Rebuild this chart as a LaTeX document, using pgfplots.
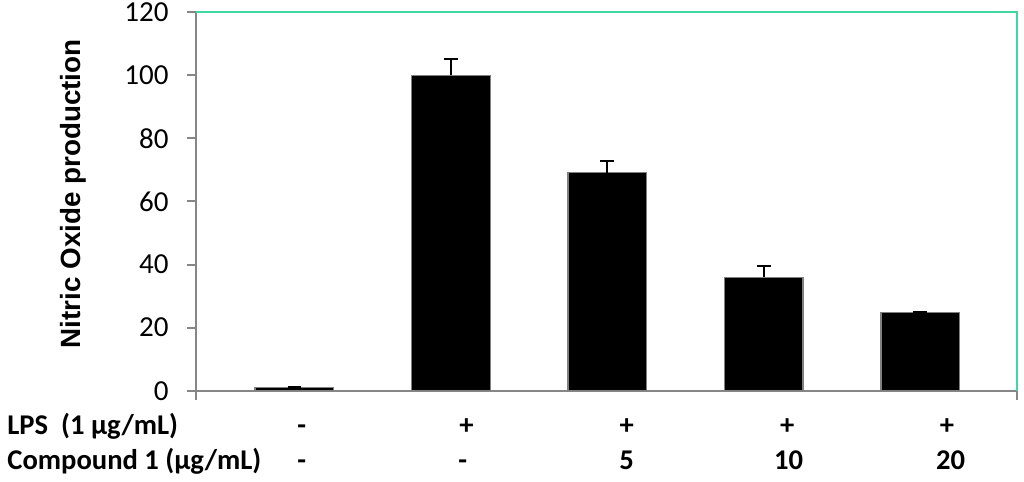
\documentclass[border=0pt]{standalone}
\usepackage{fontspec}
\setmainfont{Carlito}
\newfontfamily\arialfont{Liberation Sans}
\usepackage{pgfplots}
\pgfplotsset{compat=1.18}
\definecolor{axgray}{HTML}{868686}
\definecolor{mint}{HTML}{3FD8A0}

\begin{document}
\begin{tikzpicture}
\path[use as bounding box] (-98.25pt,-45.65pt) rectangle (413.75pt,195.35pt);
\begin{axis}[
  at={(0,0)}, anchor=south west,
  scale only axis, width=410.4pt, height=189.2pt,
  xmin=-0.625, xmax=4.62, ymin=0, ymax=120,
  ytick={0,20,...,120}, xtick=\empty,
  axis lines*=left,
  axis line style={axgray, line width=1pt},
  tick align=outside, major tick length=4.6pt,
  every tick/.style={axgray, line width=1pt},
  /pgf/number format/assume math mode=true,
  yticklabel style={font=\fontsize{14.5}{17}\selectfont, anchor=east, inner sep=0pt, xshift=-9.2pt},
  ylabel={Nitric Oxide production},
  ylabel style={font=\arialfont\bfseries\fontsize{13.9}{16}\selectfont, at={(rel axis cs:-0.1505,0.52)}, anchor=center},
  clip=false,
  bar width=39.3pt,
]
\addplot[ybar, fill=black, draw=gray, line width=0.6pt,
  error bars/.cd, y dir=plus, y explicit,
  error bar style={black, line width=0.9pt},
  error mark options={rotate=90, mark size=3.4pt, black, line width=0.9pt}]
 coordinates {
 (0,1.1) +- (0,0)
 (1,100) +- (0,5.1)
 (2,69.1) +- (0,3.8)
 (3,36) +- (0,3.6)
 (4,24.7) +- (0,0.3)
};
% green top and right border
\draw[mint, line width=1pt] (axis cs:-0.625,120) -- (axis cs:4.62,120) -- (axis cs:4.62,0);
\draw[axgray, line width=1pt] (axis cs:-0.625,0) -- ([yshift=-4.6pt]axis cs:-0.625,0);
\draw[axgray, line width=1pt] (axis cs:4.62,0) -- ([yshift=-4.6pt]axis cs:4.62,0);
% treatment table
\tikzset{lab/.style={font=\bfseries\fontsize{14.3}{16}\selectfont, inner sep=0pt, anchor=base}}
\node[lab, anchor=base west, xshift=-94.75pt, yshift=-22.15pt] at (rel axis cs:0,0) {LPS\ \ (1 μg/mL)};
\node[lab, anchor=base west, xshift=-94.75pt, yshift=-39.65pt] at (rel axis cs:0,0) {Compound 1 (μg/mL)};
\node[lab, yshift=-22.15pt] at (axis cs:0.047,0) {-};
\node[lab, yshift=-22.15pt] at (axis cs:1.100,0) {+};
\node[lab, yshift=-22.15pt] at (axis cs:2.124,0) {+};
\node[lab, yshift=-22.15pt] at (axis cs:3.150,0) {+};
\node[lab, yshift=-22.15pt] at (axis cs:4.170,0) {+};
\node[lab, yshift=-39.65pt] at (axis cs:0.047,0) {-};
\node[lab, yshift=-39.65pt] at (axis cs:1.076,0) {-};
\node[lab, yshift=-39.65pt] at (axis cs:2.124,0) {5};
\node[lab, yshift=-39.65pt] at (axis cs:3.159,0) {10};
\node[lab, yshift=-39.65pt] at (axis cs:4.194,0) {20};
\end{axis}
\end{tikzpicture}
\end{document}
